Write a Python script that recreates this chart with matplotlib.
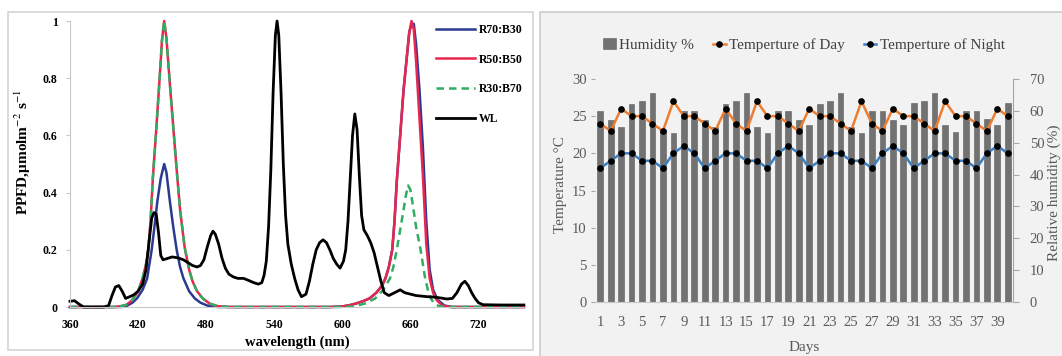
import numpy as np
import matplotlib.pyplot as plt
from matplotlib.patches import Rectangle

plt.rcParams['font.family'] = ['Liberation Serif', 'DejaVu Serif']
plt.rcParams['mathtext.fontset'] = 'stix'

# ── spectra ─────────────────────────────────────────────────────
b_nm = [360, 405, 410, 415, 419, 424, 428, 432, 435, 437,
        440, 443, 445, 448, 451, 454, 457, 460, 465, 470,
        475, 481, 490, 590, 600, 606, 612, 618, 624, 630,
        635, 638, 641, 644, 646, 648, 651, 654, 657, 659,
        661, 663, 665, 668, 671, 674, 677, 680, 684, 690,
        697, 760]
r70b30 = [0, 0, 0.004, 0.015, 0.03, 0.06, 0.1, 0.2, 0.3, 0.37,
          0.45, 0.5, 0.47, 0.37, 0.28, 0.2, 0.14, 0.1, 0.055, 0.03,
          0.015, 0.005, 0, 0, 0.002, 0.006, 0.012, 0.02, 0.03, 0.05,
          0.075, 0.1, 0.14, 0.2, 0.3, 0.44, 0.6, 0.76, 0.88, 0.96,
          0.99, 0.99, 0.92, 0.76, 0.56, 0.3, 0.13, 0.06, 0.025, 0.005,
          0, 0]

r_nm = [360, 400, 405, 410, 415, 420, 424, 427, 429, 431,
        433, 436, 439, 441, 443, 445, 448, 451, 454, 457,
        461, 465, 468, 472, 477, 483, 490, 500, 590, 600,
        606, 612, 618, 624, 630, 635, 638, 641, 644, 646,
        648, 651, 654, 657, 659, 661, 663, 665, 668, 671,
        674, 677, 680, 683, 688, 695, 760]
r50b50 = [0, 0, 0.003, 0.008, 0.025, 0.055, 0.1, 0.15, 0.2, 0.3,
          0.45, 0.62, 0.8, 0.93, 1.0, 0.94, 0.78, 0.63, 0.48, 0.34,
          0.21, 0.13, 0.09, 0.055, 0.03, 0.012, 0.003, 0, 0, 0.002,
          0.006, 0.012, 0.02, 0.03, 0.05, 0.075, 0.1, 0.14, 0.2, 0.3,
          0.44, 0.6, 0.76, 0.88, 0.96, 1.0, 0.97, 0.86, 0.66, 0.46,
          0.22, 0.1, 0.05, 0.025, 0.005, 0, 0]

g_nm = [360, 400, 405, 410, 415, 420, 424, 427, 429, 431,
        433, 436, 439, 441, 443, 445, 448, 451, 454, 457,
        461, 465, 468, 472, 477, 483, 490, 500, 600, 610,
        620, 629, 636, 642, 645, 648, 651, 654, 656, 658,
        660, 662, 665, 669, 673, 676, 678, 681, 685, 690,
        760]
r30b70 = [0, 0, 0.003, 0.008, 0.025, 0.055, 0.1, 0.15, 0.2, 0.3,
          0.45, 0.62, 0.8, 0.93, 1.0, 0.94, 0.78, 0.63, 0.48, 0.34,
          0.21, 0.13, 0.09, 0.055, 0.03, 0.012, 0.003, 0, 0, 0.002,
          0.012, 0.03, 0.06, 0.1, 0.14, 0.2, 0.27, 0.34, 0.39, 0.425,
          0.41, 0.36, 0.28, 0.2, 0.1, 0.05, 0.03, 0.012, 0.003, 0,
          0]

wl_nm = [360, 364, 368, 372, 390, 394, 397, 400, 403, 406,
         409, 412, 416, 420, 424, 427, 430, 432, 434, 436,
         438, 440, 442, 446, 450, 455, 460, 464, 468, 472,
         475, 478, 481, 484, 486, 488, 491, 494, 497, 500,
         504, 508, 513, 518, 522, 526, 529, 531, 533, 535,
         537, 539, 541, 542.5, 544, 546, 548, 550, 552, 555,
         558, 561, 564, 568, 571, 574, 577, 580, 583, 586,
         589, 592, 595, 598, 601, 603, 605, 607, 609, 611,
         613, 615, 617, 619, 622, 625, 628, 631, 634, 637,
         641, 646, 651, 655, 660, 665, 670, 675, 680, 686,
         692, 697, 701, 705, 708, 711, 714, 717, 720, 724,
         740, 760]
wl_ppfd = [0.02, 0.022, 0.01, 0.0, 0.0, 0.005, 0.04, 0.07, 0.075, 0.055,
           0.03, 0.035, 0.042, 0.055, 0.08, 0.13, 0.24, 0.31, 0.33, 0.325,
           0.26, 0.18, 0.165, 0.17, 0.175, 0.172, 0.165, 0.155, 0.145, 0.14,
           0.145, 0.165, 0.21, 0.25, 0.265, 0.255, 0.22, 0.17, 0.135, 0.115,
           0.105, 0.1, 0.1, 0.092, 0.085, 0.08, 0.085, 0.11, 0.16, 0.28,
           0.48, 0.75, 0.95, 1.0, 0.95, 0.75, 0.5, 0.32, 0.22, 0.15,
           0.1, 0.06, 0.036, 0.045, 0.09, 0.15, 0.2, 0.225, 0.235, 0.225,
           0.2, 0.17, 0.15, 0.136, 0.16, 0.2, 0.3, 0.45, 0.6, 0.675,
           0.62, 0.46, 0.32, 0.27, 0.25, 0.225, 0.19, 0.14, 0.09, 0.05,
           0.04, 0.05, 0.06, 0.05, 0.045, 0.04, 0.038, 0.036, 0.035, 0.032,
           0.028, 0.03, 0.05, 0.08, 0.09, 0.075, 0.05, 0.03, 0.015, 0.008,
           0.007, 0.007]

# ── climate data ───────────────────────────────────────────────
days = list(range(1, 41))
humidity = [60, 57, 55, 62, 63, 65.5, 54, 53, 60, 60,
            57, 55, 62, 63, 65.5, 55, 53, 60, 60, 57,
            55.5, 62, 63, 65.5, 55, 53, 60, 60, 57, 55.5,
            62.5, 63, 65.5, 55.5, 53.5, 60, 60, 57.5, 55.5, 62.5]
temp_day = [24, 23, 26, 25, 25, 24, 23, 27, 25, 25,
            24, 23, 26, 24, 23, 27, 25, 25, 24, 23,
            26, 25, 25, 24, 23, 27, 24, 23, 26, 25,
            25, 24, 23, 27, 25, 25, 24, 23, 26, 25]
temp_night = [18, 19, 20, 20, 19, 19, 18, 20, 21, 20,
              18, 19, 20, 20, 19, 19, 18, 20, 21, 20,
              18, 19, 20, 20, 19, 19, 18, 20, 21, 20,
              18, 19, 20, 20, 19, 19, 18, 20, 21, 20]

W, H = 1062, 356
fig = plt.figure(figsize=(W / 100, H / 100), dpi=100)


def box(x0, y0, x1, y1):
    return [x0 / W, 1 - y1 / H, (x1 - x0) / W, (y1 - y0) / H]


fig.patches.append(Rectangle((8 / W, 1 - 350 / H), 525 / W, 338 / H, transform=fig.transFigure,
                             fill=False, ec='#d4d4d4', lw=1.2, zorder=-5))
fig.patches.append(Rectangle((540 / W, -0.01), 530 / W, 344 / H + 0.01, transform=fig.transFigure,
                             fc='#f2f2f2', ec='#cccccc', lw=1.2, zorder=-5))

# ── left: spectra ──────────────────────────────────────────────
ax1 = fig.add_axes(box(70, 21, 525, 307))
ax1.plot(b_nm, r70b30, color='#2b3990', lw=1.8, label='R70:B30', clip_on=False)
ax1.plot(r_nm, r50b50, color='#e8264f', lw=1.8, label='R50:B50', clip_on=False)
ax1.plot(g_nm, r30b70, color='#2fae62', lw=1.8, ls=(0, (3, 2)), label='R30:B70', clip_on=False)
ax1.plot(wl_nm, wl_ppfd, color='black', lw=2, label='WL', clip_on=False)

ax1.set_xlim(360, 761)
ax1.set_ylim(0, 1)
ax1.set_xticks(range(360, 721, 60))
ax1.set_yticks([0, 0.2, 0.4, 0.6, 0.8, 1])
ax1.set_yticklabels(['0', '0.2', '0.4', '0.6', '0.8', '1'])
for s in ['top', 'right']:
    ax1.spines[s].set_visible(False)
for s in ['left', 'bottom']:
    ax1.spines[s].set_color('#c8c8c8')
ax1.tick_params(axis='y', length=3, color='#c8c8c8', labelsize=8.5, pad=6)
ax1.tick_params(axis='x', length=0, labelsize=8.5, pad=9)
for lab in ax1.get_xticklabels() + ax1.get_yticklabels():
    lab.set_fontweight('bold')

ax1.set_xlabel('wavelength (nm)', fontsize=10.5, fontweight='bold')
ax1.xaxis.set_label_coords(0.5, -0.1)
ax1.set_ylabel(r'PPFD,μmolm$^{-2}$ s$^{-1}$', fontsize=11, fontweight='bold')
ax1.yaxis.set_label_coords(-0.082, 0.54)
ax1.legend(loc='upper left', bbox_to_anchor=(0.805, 0.99), frameon=False,
           prop={'weight': 'bold', 'size': 8.5}, handlelength=3.3, handletextpad=0.3,
           labelspacing=1.5, borderpad=0, borderaxespad=0)

# ── right: humidity & temperature ──────────────────────────────
ax2 = fig.add_axes(box(595, 79, 1013, 302))
axh = ax2.twinx()
ax2.set_zorder(axh.get_zorder() + 1)
ax2.patch.set_visible(False)
axh.patch.set_visible(False)

bars = axh.bar(days, humidity, width=0.55, color='#727272', edgecolor='#5e5e5e', lw=0.4,
               label='Humidity %')
l1, = ax2.plot(days, temp_day, color='#ED7D31', lw=1.8, marker='o', ms=3.8,
               mfc='black', mec='black', label='Temperture of Day')
l2, = ax2.plot(days, temp_night, color='#3d7ebf', lw=1.8, marker='o', ms=3.8,
               mfc='black', mec='black', label='Temperture of Night')

ax2.set_xlim(0.5, 40.5)
ax2.set_ylim(0, 30)
axh.set_ylim(0, 70)
ax2.set_yticks(range(0, 31, 5))
axh.set_yticks(range(0, 71, 10))
ax2.set_xticks(range(1, 40, 2))

for a in (ax2, axh):
    for s in ['top', 'left', 'right', 'bottom']:
        a.spines[s].set_visible(False)
axh.spines['right'].set_visible(True)
axh.spines['right'].set_color('#a6a6a6')
ax2.spines['bottom'].set_visible(True)
ax2.spines['bottom'].set_color('#c8c8c8')

tc = '#595959'
ax2.tick_params(axis='y', length=3, color='#a6a6a6', labelsize=10.5, labelcolor=tc, pad=3)
ax2.tick_params(axis='x', length=0, labelsize=10.5, labelcolor=tc, pad=10)
axh.tick_params(axis='y', length=4, color='#a6a6a6', labelsize=10.5, labelcolor=tc, pad=8)

ax2.set_ylabel('Temperature °C', fontsize=11, color=tc)
ax2.yaxis.set_label_coords(-0.067, 0.525)
axh.set_ylabel('Relative humidity (%)', fontsize=11, color=tc, rotation=90)
axh.yaxis.set_label_coords(1.083, 0.49)
ax2.set_xlabel('Days', fontsize=11, color=tc)
ax2.xaxis.set_label_coords(0.5, -0.175)

ax2.legend([bars, l1, l2], ['Humidity %', 'Temperture of Day', 'Temperture of Night'],
           loc='center left', bbox_to_anchor=(0.02, 1.152), ncol=3, frameon=False,
           fontsize=11, labelcolor='#404040', handlelength=0.8, handletextpad=0.2,
           columnspacing=1.3, borderpad=0, borderaxespad=0)

plt.savefig('out.png', dpi=100)
